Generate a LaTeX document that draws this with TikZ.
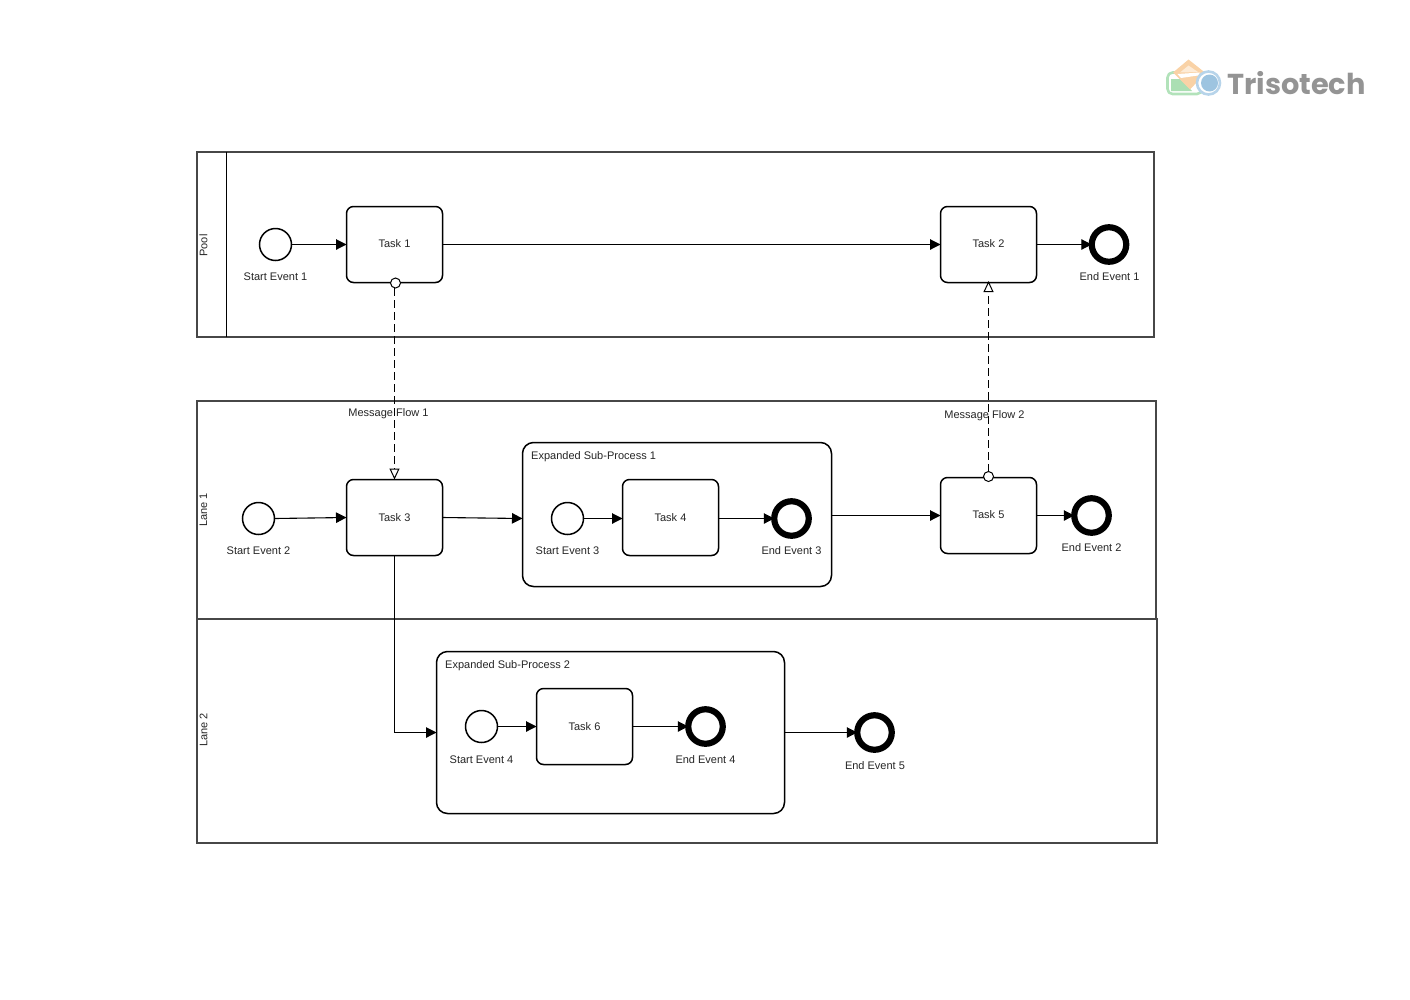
\documentclass[tikz,border=0pt]{standalone}
\usepackage{fontspec}
\setmainfont{Liberation Sans}
\newfontfamily\logofont{Poppins}
\usetikzlibrary{arrows.meta,positioning}
\definecolor{logogreen}{HTML}{B2E2BA}
\definecolor{logogreenf}{HTML}{ABDFB3}
\definecolor{logoorange}{HTML}{F9D2A6}
\definecolor{logopale}{HTML}{FDEBD6}
\definecolor{logoblue}{HTML}{B7D4EA}
\definecolor{logobluef}{HTML}{9DC4E0}
\tikzset{
  x=1pt,y=-1pt,
  bpmn/.style={draw=black,line width=1.5pt,inner sep=0pt,outer sep=0pt},
  taskbox/.style={bpmn,rectangle,rounded corners=7pt,minimum width=96pt,minimum height=76pt,font=\fontsize{11}{13}\selectfont,fill=white,text=black!85},
  subbox/.style={bpmn,rectangle,rounded corners=11pt,fill=white},
  startev/.style={bpmn,circle,minimum size=32pt,fill=white},
  endev/.style={draw=black,line width=6.2pt,circle,inner sep=0pt,outer sep=0pt,minimum size=34.5pt,fill=white},
  lanebox/.style={bpmn,rectangle,fill=white,draw=black!72,line width=2pt},
  headbox/.style={rectangle,inner sep=0pt,outer sep=0pt},
  lbl/.style={font=\fontsize{11}{13}\selectfont,text=black!85,inner sep=0pt},
  seq/.style={draw=black,line width=1.1pt,-{Triangle[length=10.5pt,width=10.5pt]}},
  divider/.style={draw=black,line width=1.1pt},
  msgdot/.style={draw=black,line width=1pt,circle,inner sep=0pt,outer sep=0pt,minimum size=10pt,fill=white},
  msg/.style={draw=black,line width=1pt,dash pattern=on 8pt off 4pt,-{Triangle[open,fill=white,length=11pt,width=10pt,line width=1pt]}},
  logotxt/.style={font=\logofont\bfseries\fontsize{28.8}{30}\selectfont,text=black!42,inner sep=0pt}
}
\newcommand{\boxat}[6]{\node[#1,anchor=north west,minimum width=#5pt-#3pt,minimum height=#6pt-#4pt] (#2) at (#3,#4) {};}
\begin{document}
\begin{tikzpicture}
\useasboundingbox (0,0) rectangle (1410,999);
% pool and lanes
\boxat{lanebox}{pool}{197}{152}{1154}{337}
\boxat{headbox}{poolhead}{197}{152}{226.5}{337}
\draw[divider] (poolhead.north east) -- (poolhead.south east);
\boxat{lanebox}{lane1}{197}{401}{1156}{619}
\boxat{lanebox}{lane2}{197}{619}{1157}{843}
\node[lbl,rotate=90] (poollbl) at (203.5,245.5) {Pool};
\node[lbl,rotate=90] (lane1lbl) at (203.5,510) {Lane 1};
\node[lbl,rotate=90] (lane2lbl) at (203.5,730) {Lane 2};
% subprocesses
\boxat{subbox}{sub1}{522.5}{442.5}{831.5}{586.5}
\boxat{subbox}{sub2}{436.5}{651.5}{784.5}{813.5}
\node[lbl,anchor=west] (sub1lbl) at (531,457) {Expanded Sub-Process 1};
\node[lbl,anchor=west] (sub2lbl) at (445,666) {Expanded Sub-Process 2};
% tasks
\node[taskbox,text depth=2pt] (t1) at (394.5,244.5) {Task 1};
\node[taskbox,text depth=2pt] (t2) at (988.5,244.5) {Task 2};
\node[taskbox,text depth=0.5pt] (t3) at (394.5,517.5) {Task 3};
\node[taskbox,text depth=0.5pt] (t4) at (670.5,517.5) {Task 4};
\node[taskbox,text depth=2pt] (t5) at (988.5,515.5) {Task 5};
\node[taskbox,text depth=0.5pt] (t6) at (584.5,726.5) {Task 6};
% events
\node[startev] (s1) at (275.5,244.5) {};
\node[startev] (s2) at (258.5,518.5) {};
\node[startev] (s3) at (567.5,518.5) {};
\node[startev] (s4) at (481.5,726.5) {};
\node[endev] (e1) at (1109,244.5) {};
\node[endev] (e2) at (1091.5,515.5) {};
\node[endev] (e3) at (791.5,518.5) {};
\node[endev] (e4) at (705.5,726.5) {};
\node[endev] (e5) at (874.5,732.5) {};
% event labels
\node[lbl] (s1l) at (275.5,277) {Start Event 1};
\node[lbl] (s2l) at (258.5,550.5) {Start Event 2};
\node[lbl] (s3l) at (567.5,550.5) {Start Event 3};
\node[lbl] (s4l) at (481.5,759.5) {Start Event 4};
\node[lbl] (e1l) at (1109.5,277) {End Event 1};
\node[lbl] (e2l) at (1091.5,548) {End Event 2};
\node[lbl] (e3l) at (791.5,550.5) {End Event 3};
\node[lbl] (e4l) at (705.5,759.5) {End Event 4};
\node[lbl] (e5l) at (875,765.5) {End Event 5};
\node[lbl] (m1l) at (388.5,413.5) {Message Flow 1};
\node[lbl] (m2l) at (984.5,415.5) {Message Flow 2};
% sequence flows
\coordinate (sub1in) at (522.5,518.5);
\draw[seq] (s1.east) -- (t1.west);
\draw[seq] (t1.east) -- (t2.west);
\draw[seq] (t2.east) -- (e1.west);
\draw[seq] (s2.east) -- (t3.west);
\draw[seq] (t3.east) -- (sub1in);
\draw[seq] (s3.east) -- (s3.east -| t4.west);
\draw[seq] (t4.east |- e3.west) -- (e3.west);
\draw[seq] (sub1.east |- t5.west) -- (t5.west);
\draw[seq] (t5.east) -- (e2.west);
\draw[seq] (t3.south) |- (sub2.west);
\draw[seq] (s4.east) -- (t6.west);
\draw[seq] (t6.east) -- (e4.west);
\draw[seq] (sub2.east) -- (e5.west);
% message flows
\node[msgdot] (m1) at (395.5,283) {};
\node[msgdot] (m2) at (988.5,476.5) {};
\draw[msg] (m1.south -| t3.north) -- (t3.north);
\draw[msg,shorten >=-1.5pt] (m2.north) -- (t2.south);
% logo
\begin{scope}[line join=round]
\draw[draw=logogreen,line width=2.6pt,rounded corners=5pt] (1167.5,72.5) rectangle (1202,94);
\fill[logogreenf] (1171,79) -- (1180,79) -- (1192,91) -- (1171,91) -- cycle;
\fill[logoorange] (1188.5,59.5) -- (1205.5,73) -- (1190,89.5) -- (1173,72.5) -- cycle;
\fill[logopale] (1188.5,65.5) -- (1198,72) -- (1180,72.5) -- cycle;
\fill[white] (1177.5,74) -- (1200,72.5) -- (1198,75.5) -- (1181,78) -- cycle;
\draw[draw=logoblue,line width=2.6pt,fill=white] (1208.5,83) circle (11.5pt);
\fill[logobluef] (1209.5,83) circle (8.5pt);
\end{scope}
\node[logotxt,anchor=west] (logo) at (1227,83.5) {Trisotech};
\end{tikzpicture}
\end{document}
